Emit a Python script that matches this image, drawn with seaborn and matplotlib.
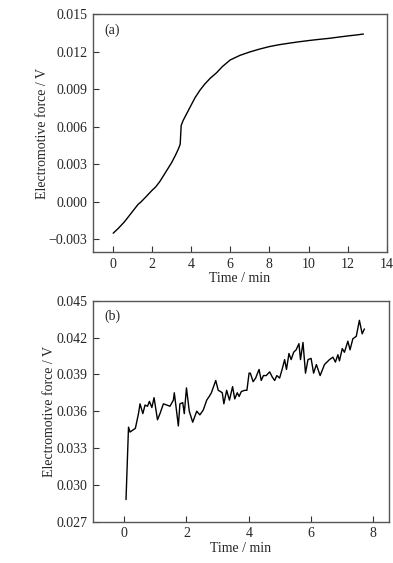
import matplotlib
matplotlib.use("Agg")
import matplotlib.pyplot as plt
import seaborn as sns
import pandas as pd

# Panel (a)
time_a = [0.03, 0.3, 0.6, 0.9, 1.15, 1.3, 1.45, 1.7, 2.0, 2.2, 2.4, 2.6, 2.8, 3.0, 3.2, 3.35,
          3.45, 3.5, 3.6, 3.8, 4.0, 4.2, 4.45, 4.7, 5.0, 5.3, 5.6, 6.0, 6.5, 7.0, 7.5, 8.0,
          8.5, 9.0, 9.5, 10.0, 10.5, 11.0, 11.5, 12.0, 12.4, 12.8]
emf_a = [-0.0025, -0.0021, -0.0016, -0.0010, -0.0005, -0.0002, 0.0000, 0.0004, 0.0009, 0.0012,
         0.0016, 0.0021, 0.0026, 0.0031, 0.0037, 0.0042, 0.0046, 0.0061, 0.0065, 0.0071,
         0.0077, 0.0083, 0.0089, 0.0094, 0.0099, 0.0103, 0.0108, 0.01133, 0.01170, 0.01197,
         0.0122, 0.0124, 0.01255, 0.01267, 0.01278, 0.01288, 0.01297, 0.01305, 0.01315,
         0.01325, 0.01332, 0.0134]

# Panel (b)
time_b = [0.06, 0.14, 0.19, 0.3, 0.36, 0.46, 0.51, 0.6, 0.67, 0.75, 0.81, 0.89, 0.96, 1.07,
          1.15, 1.26, 1.37, 1.47, 1.58, 1.61, 1.74, 1.79, 1.88, 1.93, 2.0, 2.09, 2.2, 2.33,
          2.43, 2.54, 2.65, 2.73, 2.8, 2.94, 3.02, 3.09, 3.15, 3.2, 3.29, 3.38, 3.48, 3.55,
          3.63, 3.69, 3.76, 3.87, 3.94, 4.01, 4.05, 4.14, 4.22, 4.33, 4.4, 4.47, 4.56, 4.67,
          4.75, 4.83, 4.9, 4.99, 5.08, 5.15, 5.21, 5.29, 5.36, 5.44, 5.52, 5.61, 5.66, 5.74,
          5.82, 5.9, 6.0, 6.08, 6.17, 6.29, 6.43, 6.59, 6.7, 6.78, 6.86, 6.91, 7.0, 7.07,
          7.18, 7.25, 7.34, 7.45, 7.55, 7.64, 7.71]
emf_b = [0.0288, 0.0347, 0.0343, 0.0345, 0.0346, 0.0358, 0.0366, 0.0358, 0.0365, 0.0364,
         0.0368, 0.0363, 0.0371, 0.0353, 0.0358, 0.0366, 0.0365, 0.0364, 0.0369, 0.0375,
         0.0348, 0.0366, 0.0367, 0.0358, 0.0379, 0.0360, 0.0351, 0.0360, 0.0357, 0.0361,
         0.0369, 0.0372, 0.0375, 0.0385, 0.0377, 0.0376, 0.0375, 0.0366, 0.0377, 0.0369,
         0.0380, 0.0370, 0.0375, 0.0372, 0.0376, 0.0377, 0.0377, 0.0391, 0.0391, 0.0384,
         0.0387, 0.0394, 0.0385, 0.0389, 0.0389, 0.0392, 0.0388, 0.0385, 0.0389, 0.0387,
         0.0395, 0.0402, 0.0394, 0.0407, 0.0402, 0.0408, 0.0410, 0.0415, 0.0402, 0.0416,
         0.0391, 0.0402, 0.0403, 0.0391, 0.0398, 0.0389, 0.0398, 0.0402, 0.0404, 0.0400,
         0.0406, 0.0401, 0.0411, 0.0408, 0.0417, 0.0410, 0.0419, 0.0421, 0.0434, 0.0423,
         0.0427]

sns.set_theme(style="ticks")
plt.rcParams['font.family'] = ['Liberation Serif', 'DejaVu Serif']
plt.rcParams['axes.linewidth'] = 1.0

fig = plt.figure(figsize=(3.93, 5.63), dpi=100)
ax1 = fig.add_axes([0.2366, 0.5524, 0.748, 0.4227])
ax2 = fig.add_axes([0.2366, 0.0734, 0.7532, 0.3925])

df_a = pd.DataFrame({"t": time_a, "v": emf_a})
df_b = pd.DataFrame({"t": time_b, "v": emf_b})

sns.lineplot(data=df_a, x="t", y="v", ax=ax1, color="black", linewidth=1.0)
sns.lineplot(data=df_b, x="t", y="v", ax=ax2, color="black", linewidth=1.0)

ax1.set_xlim(-1, 14)
ax1.set_ylim(-0.004, 0.015)
ax1.set_xticks([0, 2, 4, 6, 8, 10, 12, 14])
ax1.set_yticks([-0.003, 0.000, 0.003, 0.006, 0.009, 0.012, 0.015])
ax1.set_yticklabels(["\u22120.003", "0.000", "0.003", "0.006", "0.009", "0.012", "0.015"])

ax2.set_xlim(-1, 8.5)
ax2.set_ylim(0.027, 0.045)
ax2.set_xticks([0, 2, 4, 6, 8])
ax2.set_yticks([0.027, 0.030, 0.033, 0.036, 0.039, 0.042, 0.045])
ax2.set_yticklabels(["0.027", "0.030", "0.033", "0.036", "0.039", "0.042", "0.045"])

for ax, lab in [(ax1, "(a)"), (ax2, "(b)")]:
    ax.set_xlabel("Time / min", fontsize=10, labelpad=1)
    ax.set_ylabel("Electromotive force / V", fontsize=10, labelpad=0)
    ax.tick_params(direction="in", length=4, width=0.8, labelsize=10, pad=4,
                   color="#333333")
    for s in ax.spines.values():
        s.set_color("#555555")
        s.set_visible(True)
    ax.text(0.04, 0.96, lab, transform=ax.transAxes, ha="left", va="top", fontsize=10)

fig.savefig("out.png", dpi=100)
